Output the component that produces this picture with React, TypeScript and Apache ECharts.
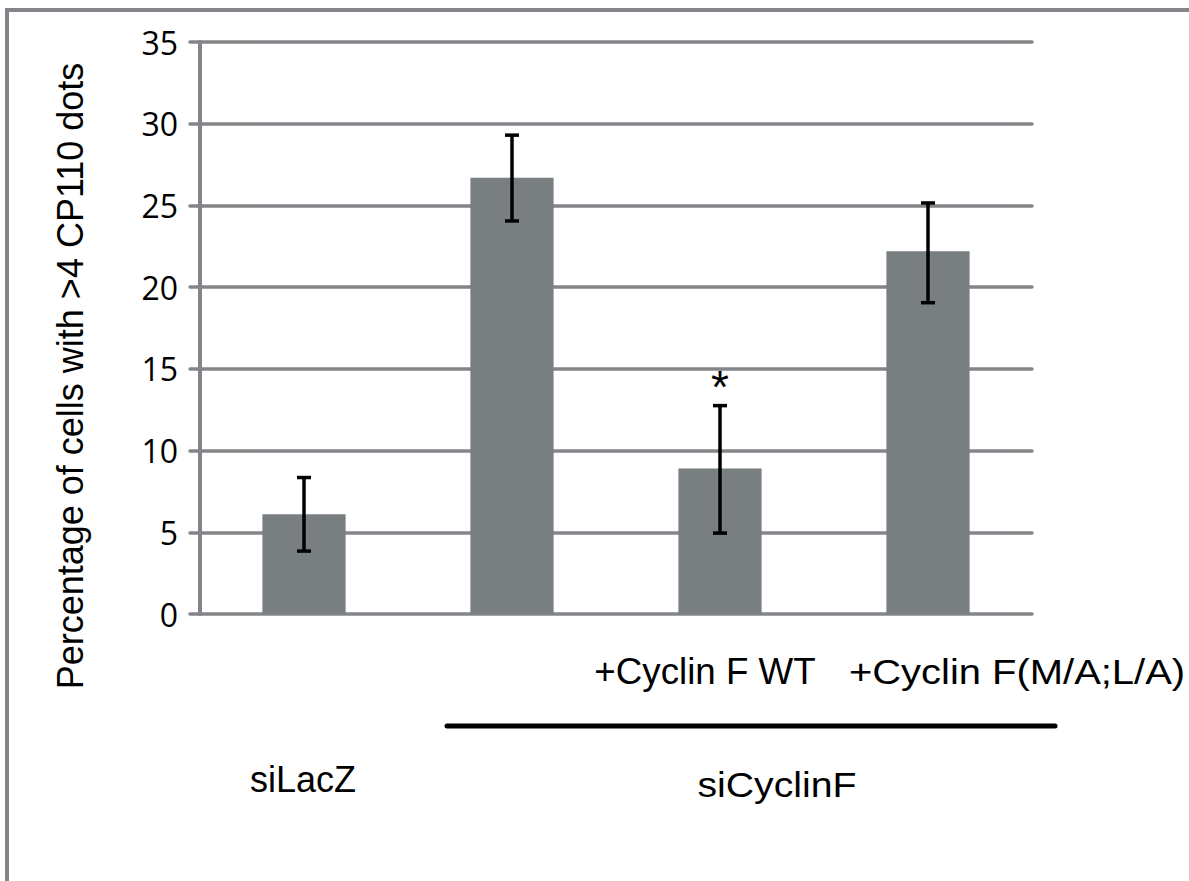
import React, { useEffect, useRef } from "react";
import * as echarts from "echarts";

const categories = ["siLacZ", "siCyclinF", "+Cyclin F WT", "+Cyclin F(M/A;L/A)"];
const means = [6.1, 26.7, 8.9, 22.2];
const errLow = [3.85, 24.05, 4.95, 19.05];
const errHigh = [8.35, 29.3, 12.75, 25.15];
const significance = ["", "", "*", ""];
const yTicks = [0, 5, 10, 15, 20, 25, 30, 35];
const yTitle = "Percentage of cells with >4 CP110 dots";
const groupLabels = ["siLacZ", "siCyclinF"];

const GRAY = "#838588";
const BAR = "#797e80";
const FONT = "'Liberation Sans', Arial, sans-serif";

export default function App() {
  const ref = useRef<HTMLDivElement>(null);
  useEffect(() => {
    if (!ref.current) return;
    const chart = echarts.init(ref.current, null, { renderer: "svg" });
    const option: any = {
      animation: false,
      backgroundColor: "#ffffff",
      grid: { left: 200, right: 157, top: 42, height: 572, containLabel: false },
      xAxis: {
        type: "category",
        data: categories,
        axisLine: { show: false },
        axisTick: { show: false },
        axisLabel: { show: false },
        splitLine: { show: false },
      },
      yAxis: {
        type: "value",
        min: yTicks[0],
        max: yTicks[yTicks.length - 1],
        interval: 5,
        axisLine: { show: true, lineStyle: { color: GRAY, width: 4 } },
        axisTick: { show: true, length: 10, lineStyle: { color: GRAY, width: 3.5, cap: "round" } },
        axisLabel: {
          margin: 22,
          fontSize: 32,
          color: "#000",
          fontFamily: "'Open Sans', sans-serif",
        },
        splitLine: { show: true, lineStyle: { color: GRAY, width: 3.5, cap: "round" } },
      },
      series: [
        {
          type: "bar",
          data: means,
          barWidth: "40%",
          itemStyle: { color: BAR },
          z: 3,
        },
        {
          type: "custom",
          z: 5,
          data: categories.map((_, i) => [i, errLow[i], errHigh[i]]),
          renderItem: (params: any, api: any) => {
            const i = api.value(0);
            const lo = api.coord([i, api.value(1)]);
            const hi = api.coord([i, api.value(2)]);
            const half = 7;
            const st = { stroke: "#000", lineWidth: 3.5 };
            const children: any[] = [
              { type: "line", shape: { x1: lo[0], y1: lo[1], x2: hi[0], y2: hi[1] }, style: st },
              { type: "line", shape: { x1: hi[0] - half, y1: hi[1], x2: hi[0] + half, y2: hi[1] }, style: st },
              { type: "line", shape: { x1: lo[0] - half, y1: lo[1], x2: lo[0] + half, y2: lo[1] }, style: st },
            ];
            const s = significance[params.dataIndex];
            if (s) {
              children.push({
                type: "text",
                x: hi[0],
                y: hi[1] + 4,
                style: {
                  text: s,
                  fontSize: 46,
                  fontFamily: FONT,
                  fill: "#000",
                  align: "center",
                  verticalAlign: "bottom",
                },
              });
            }
            return { type: "group", children };
          },
        },
      ],
      graphic: [
        { type: "line", shape: { x1: 5, y1: 10, x2: 1189, y2: 10 }, style: { stroke: GRAY, lineWidth: 4 } },
        { type: "line", shape: { x1: 7, y1: 8, x2: 7, y2: 881 }, style: { stroke: GRAY, lineWidth: 4 } },
        {
          type: "text",
          x: 70,
          y: 376,
          rotation: Math.PI / 2,
          style: { text: yTitle, fontSize: 36, fontFamily: FONT, fill: "#000", align: "center", verticalAlign: "middle" },
        },
        {
          type: "text",
          x: 705,
          y: 672,
          scaleX: 1.02,
          style: { text: categories[2], fontSize: 36, fontFamily: FONT, fill: "#000", align: "center", verticalAlign: "middle" },
        },
        {
          type: "text",
          x: 1017,
          y: 672,
          scaleX: 1.11,
          style: { text: categories[3], fontSize: 36, fontFamily: FONT, fill: "#000", align: "center", verticalAlign: "middle" },
        },
        {
          type: "line",
          shape: { x1: 447, y1: 726, x2: 1055, y2: 726 },
          style: { stroke: "#000", lineWidth: 5, lineCap: "round" },
        },
        {
          type: "text",
          x: 303,
          y: 779,
          style: { text: groupLabels[0], fontSize: 36, fontFamily: FONT, fill: "#000", align: "center", verticalAlign: "middle" },
        },
        {
          type: "text",
          x: 777,
          y: 785,
          scaleX: 1.09,
          style: { text: groupLabels[1], fontSize: 36, fontFamily: FONT, fill: "#000", align: "center", verticalAlign: "middle" },
        },
      ],
    };
    chart.setOption(option);
    return () => chart.dispose();
  }, []);
  return (
    <div
      ref={ref}
      style={{ position: "absolute", left: 0, top: 0, width: 1189, height: 881 }}
    />
  );
}
